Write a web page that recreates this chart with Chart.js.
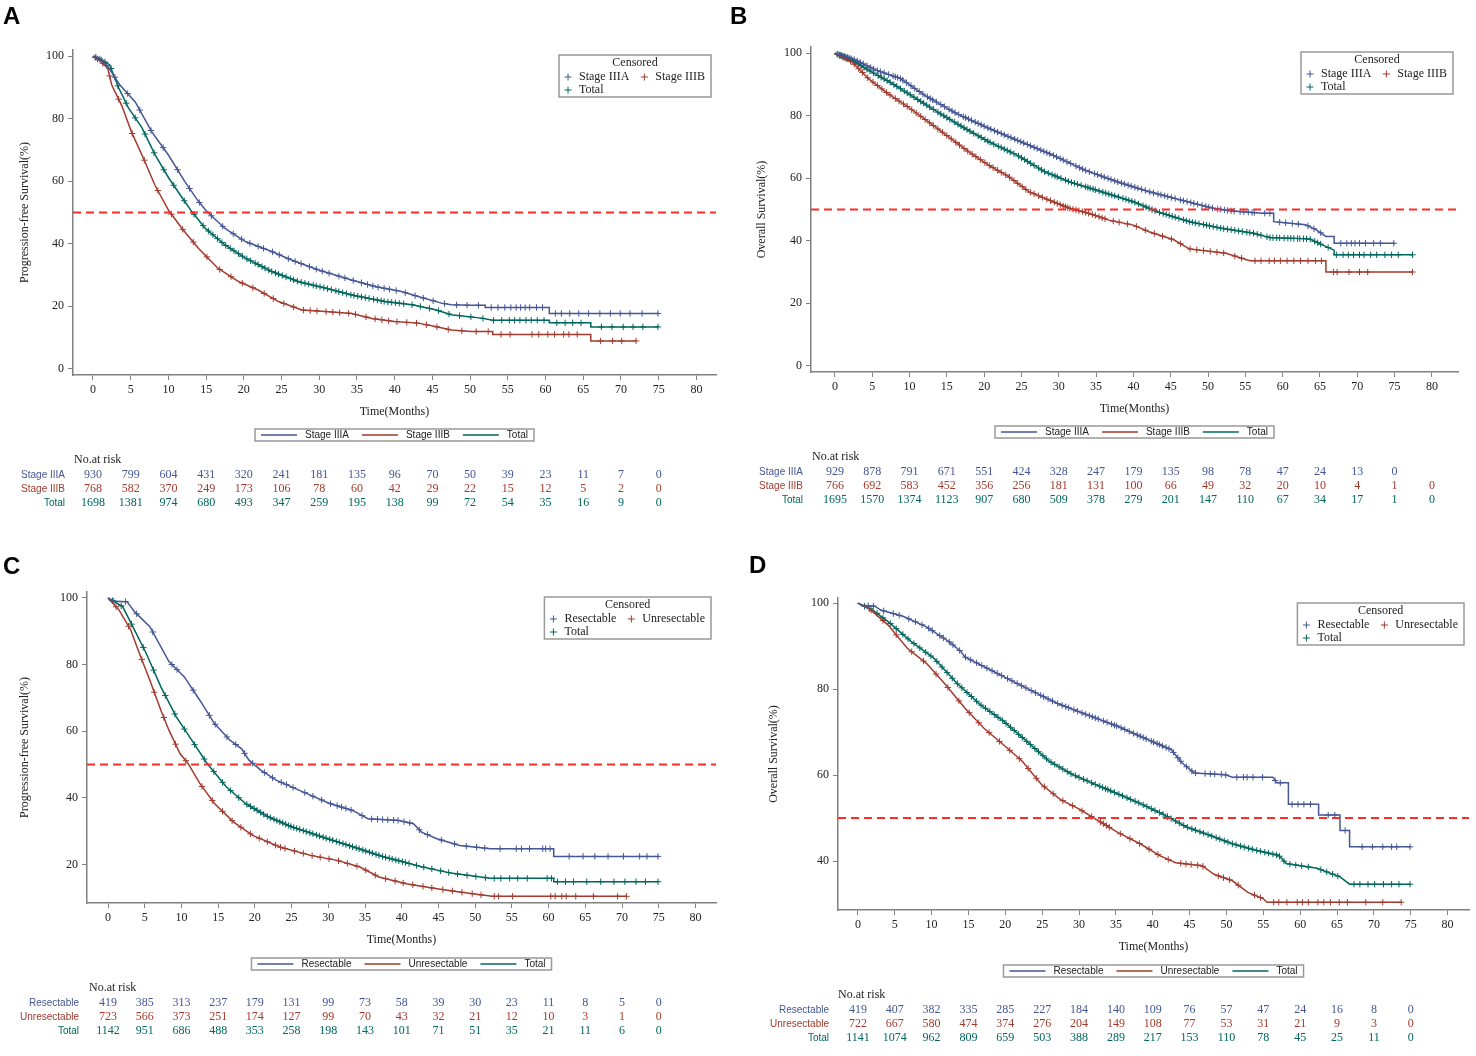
<!DOCTYPE html>
<html>
<head>
<meta charset="utf-8">
<title>Kaplan-Meier curves</title>
<script src="https://cdn.jsdelivr.net/npm/chart.js@4.4.1/dist/chart.umd.min.js"></script>
<style>
  body { margin: 0; background: #fff; }
  #page { position: relative; width: 1476px; height: 1056px; overflow: hidden; background: #fff; }
  #page canvas { position: absolute; }
  .tag { position: absolute; font: bold 24px 'Liberation Sans', Arial, sans-serif; line-height: 1; color: #000; }
</style>
</head>
<body>
<div id="page">
  <canvas id="chartA" style="left:0;top:0" width="738" height="530"></canvas>
  <canvas id="chartB" style="left:738px;top:0" width="738" height="530"></canvas>
  <canvas id="chartC" style="left:0;top:540px" width="738" height="516"></canvas>
  <canvas id="chartD" style="left:738px;top:540px" width="738" height="516"></canvas>
  <div class="tag" style="left:3px;top:4px">A</div>
  <div class="tag" style="left:730px;top:4px">B</div>
  <div class="tag" style="left:3px;top:554px">C</div>
  <div class="tag" style="left:749px;top:553px">D</div>
</div>
<script>
// Axis ticks
const X_TICKS = [0, 5, 10, 15, 20, 25, 30, 35, 40, 45, 50, 55, 60, 65, 70, 75, 80];
const Y_TICKS_FULL = [0, 20, 40, 60, 80, 100];
const Y_TICKS_C = [20, 40, 60, 80, 100];
const Y_TICKS_D = [40, 60, 80, 100];
const MEDIAN = 50;

// A: PFS by stage  (time in months, survival %, censor times)
const A_IIIA_T = [0, 1, 2, 3.6, 5.6, 7.8, 10, 12.2, 14, 15.1, 17.5, 20.2, 23.7, 26.3, 29.9, 34.3, 37.4, 40.9, 43.1, 46.2, 47.5, 50, 52, 52, 60.5, 60.5, 75];
const A_IIIA_S = [100, 99, 96.6, 90.7, 85.4, 75.8, 68.4, 59.8, 53.5, 50.3, 44.9, 40.7, 37.5, 34.8, 31.6, 28.4, 26.3, 24.7, 23.1, 21, 20.5, 20.3, 20.3, 19.6, 19.6, 17.7, 17.7];
const A_IIIA_C = [0.4, 1.1, 1.8, 2.9, 4.6, 6.2, 7.7, 9.3, 11.2, 12.8, 14.1, 15.7, 17.2, 18.6, 19.7, 20.8, 21.9, 22.6, 23.8, 24.7, 25.9, 26.8, 27.6, 28.7, 29.6, 30.4, 31.3, 32.6, 33.4, 34.5, 35.6, 36.4, 37.1, 37.8, 38.6, 39.3, 40.2, 41.4, 42.7, 43.8, 45.1, 46.6, 48.2, 49.6, 51.1, 52.8, 53.7, 54.6, 55.4, 56.1, 56.7, 57.3, 57.9, 58.8, 59.6, 61.3, 62.1, 63.2, 64.4, 65.7, 67.2, 68.6, 69.9, 71.2, 72.8, 74.9];
const A_IIIB_T = [0, 1, 1.96, 2.5, 3.8, 5.1, 6.7, 8.2, 10, 11.8, 14, 16.6, 19.3, 21.9, 24.6, 27.7, 30.8, 34.3, 37, 40, 43.1, 45.4, 47.5, 50.2, 53, 53, 66, 66, 72];
const A_IIIB_S = [100, 98.5, 96.1, 90.7, 84.3, 75.8, 67.3, 58.8, 50.8, 44.9, 38.5, 32.1, 27.9, 25.2, 21.5, 18.8, 18.3, 17.7, 16.1, 15.1, 14.6, 13.5, 12.4, 11.9, 11.9, 11, 11, 8.9, 8.9];
const A_IIIB_C = [0.6, 1.3, 2.2, 3.4, 5.2, 6.8, 8.6, 10.4, 11.9, 13.3, 15.1, 16.8, 18.3, 19.8, 21.2, 22.7, 23.9, 25.3, 26.6, 27.9, 28.8, 29.7, 30.9, 31.8, 32.7, 33.9, 34.8, 36.2, 37.4, 38.3, 39.2, 40.3, 41.6, 42.9, 44.2, 45.6, 47.1, 48.9, 50.8, 52.4, 54.1, 55.3, 58.2, 59.1, 60.3, 61.2, 62.4, 63.1, 64.2, 67.3, 68.9, 70.1, 72];
const A_TOT_T = [0, 1, 2.2, 3.4, 4.7, 6.5, 8.2, 10, 11.8, 13.1, 14.9, 17.5, 20.2, 23.7, 27.2, 30.8, 34.3, 38.7, 42.3, 45.4, 47.5, 51.5, 53, 60.5, 60.5, 66, 66, 75];
const A_TOT_S = [100, 99, 97.3, 89.9, 83.5, 77.1, 68.6, 61.2, 54.8, 50.3, 44.9, 39.6, 35.4, 31.1, 27.9, 25.8, 23.6, 21.5, 20.5, 18.9, 17.3, 16.2, 15.5, 15.5, 14.7, 14.7, 13.4, 13.4];
const A_TOT_C = [0.3, 0.9, 1.6, 2.4, 3.3, 4.4, 5.6, 6.9, 8.1, 9.4, 10.7, 12.1, 13.4, 14.6, 15.3, 15.9, 16.5, 17.1, 17.6, 18.2, 18.7, 19.3, 19.8, 20.4, 20.9, 21.5, 21.9, 22.4, 22.8, 23.3, 23.7, 24.2, 24.6, 25.1, 25.6, 26.2, 26.6, 27.1, 27.6, 28.1, 28.6, 29.2, 29.6, 30.1, 30.6, 31.1, 31.6, 32.2, 32.6, 33.1, 33.6, 34.2, 34.6, 35.1, 35.6, 36.1, 36.6, 37.2, 37.7, 38.2, 38.6, 39.1, 39.6, 40.1, 40.6, 41.2, 42.3, 43.4, 44.6, 45.8, 47.2, 48.6, 50.1, 51.7, 53.1, 54.2, 55.2, 55.9, 56.6, 57.4, 58.1, 58.9, 59.8, 61.5, 62.6, 63.6, 64.7, 67.4, 68.8, 70.3, 71.6, 72.9, 74.9];

// B: OS by stage
const B_IIIA_T = [0, 2.8, 5.5, 8.8, 12, 16.3, 20.6, 24.9, 29.2, 33.5, 37.8, 42.1, 46.4, 50.7, 52.9, 57.2, 58.8, 58.8, 63.1, 64.5, 65.8, 66.9, 66.9, 75];
const B_IIIA_S = [100, 97.8, 94.6, 91.9, 86.6, 80.7, 76, 71.7, 67.4, 62.6, 58.9, 55.7, 53, 50.4, 49.6, 48.8, 48.8, 46.1, 45.1, 43.5, 41.4, 41.4, 39.2, 39.2];
const B_IIIA_C = [0.4, 0.7, 0.9, 1.2, 1.4, 1.7, 1.9, 2.2, 2.6, 3.0, 3.4, 3.8, 4.3, 4.8, 5.2, 5.7, 6.1, 6.6, 7.2, 7.8, 8.1, 8.4, 8.8, 9.1, 9.6, 10.2, 10.7, 11.3, 11.8, 12.4, 12.8, 13.1, 13.6, 14.2, 14.7, 15.3, 15.7, 16.1, 16.6, 17.2, 17.5, 17.9, 18.3, 18.8, 19.2, 19.6, 20.0, 20.5, 20.9, 21.4, 21.8, 22.3, 22.7, 23.2, 23.6, 24.1, 24.5, 24.9, 25.3, 25.8, 26.2, 26.7, 27.1, 27.6, 28.0, 28.4, 28.8, 29.3, 29.7, 30.2, 30.6, 31.1, 31.6, 32.3, 32.8, 33.2, 33.6, 34.1, 34.8, 35.2, 35.7, 36.1, 36.6, 37.0, 37.5, 37.9, 38.4, 38.8, 39.3, 39.7, 40.2, 40.6, 41.1, 41.6, 42.2, 42.7, 43.3, 43.7, 44.2, 44.6, 45.1, 45.6, 46.3, 46.7, 47.2, 47.7, 48.1, 48.6, 49.2, 49.7, 50.1, 50.6, 51.3, 51.7, 52.2, 52.6, 53.1, 53.5, 54.3, 54.8, 55.4, 55.9, 56.2, 57.6, 58.3, 59.6, 60.4, 61.3, 62.1, 63.4, 64.2, 65.1, 67.8, 68.6, 69.2, 69.7, 70.3, 71.1, 72.2, 73.1, 74.9];
const B_IIIB_T = [0, 2.3, 4.5, 7.1, 9.8, 12.5, 15.2, 17.9, 20.6, 23.3, 26, 28.7, 31.4, 34, 36.7, 40, 42.1, 45.4, 47.5, 52.4, 55.6, 65.8, 65.8, 77.4];
const B_IIIB_S = [100, 97.2, 91.9, 87.1, 82.8, 78.1, 73.3, 68.5, 64.2, 60.5, 55.7, 53, 50.4, 48.8, 46.6, 45, 42.9, 40.3, 37.4, 36, 33.6, 33.6, 30, 30];
const B_IIIB_C = [0.6, 1.1, 1.5, 2.1, 2.6, 3.2, 3.7, 4.4, 5.1, 5.7, 6.3, 6.9, 7.4, 8.1, 8.6, 9.2, 9.7, 10.3, 10.9, 11.5, 12.1, 12.7, 13.2, 13.8, 14.4, 15.0, 15.6, 16.2, 16.7, 17.3, 17.8, 18.4, 18.9, 19.5, 20.1, 20.7, 21.2, 21.8, 22.3, 22.9, 23.4, 24.0, 24.5, 25.1, 25.6, 26.2, 26.7, 27.3, 27.8, 28.4, 28.9, 29.4, 29.8, 30.2, 30.6, 30.9, 31.2, 31.5, 31.9, 32.3, 32.7, 33.2, 33.6, 34.0, 34.5, 34.9, 35.4, 35.8, 36.2, 37.3, 38.1, 39.2, 40.4, 41.6, 42.8, 43.9, 45.1, 46.3, 47.6, 48.5, 49.4, 50.3, 51.2, 52.1, 53.6, 54.5, 56.3, 57.1, 58.2, 58.9, 59.7, 60.6, 61.5, 62.4, 63.4, 64.4, 65.2, 66.8, 67.3, 68.9, 70.3, 71.4, 77.4];
const B_TOT_T = [0, 2.3, 4.5, 7.7, 10.9, 14.1, 17.4, 20.6, 24.4, 28.1, 31.4, 35.7, 40, 43.2, 47.5, 51.8, 56.1, 58.3, 63.6, 65.3, 66.9, 66.9, 77.4];
const B_TOT_S = [100, 97.8, 94.6, 90.3, 85.5, 80.7, 76, 71.7, 67.4, 62.1, 58.9, 55.7, 52.5, 49.3, 46.1, 44, 42.4, 41, 40.6, 38.7, 37, 35.5, 35.5];
const B_TOT_C = [0.3, 0.6, 0.8, 1.0, 1.3, 1.5, 1.7, 2.0, 2.4, 2.7, 3.1, 3.5, 3.9, 4.3, 4.7, 5.2, 5.8, 6.2, 6.6, 7.0, 7.4, 7.9, 8.3, 8.8, 9.3, 9.7, 10.1, 10.6, 11.1, 11.5, 11.9, 12.3, 12.7, 13.2, 13.8, 14.2, 14.6, 15.0, 15.4, 16.0, 16.5, 16.9, 17.3, 17.7, 18.1, 18.6, 19.2, 19.6, 20.1, 20.5, 20.8, 21.3, 21.9, 22.3, 22.7, 23.1, 23.5, 24.0, 24.6, 25.0, 25.4, 25.8, 26.2, 26.7, 27.3, 27.7, 28.1, 28.6, 29.1, 29.5, 29.8, 30.3, 30.9, 31.3, 31.7, 32.1, 32.5, 33.0, 33.6, 33.9, 34.2, 34.6, 34.9, 35.4, 35.9, 36.3, 36.7, 37.1, 37.5, 38.0, 38.6, 39.0, 39.4, 39.8, 40.2, 40.7, 41.3, 41.7, 42.1, 42.5, 42.9, 43.5, 44.0, 44.4, 44.8, 45.2, 45.6, 46.1, 46.7, 47.1, 47.5, 47.9, 48.3, 48.8, 49.4, 49.8, 50.2, 50.7, 51.2, 51.7, 52.1, 52.6, 53.1, 53.6, 54.1, 54.6, 55.2, 55.6, 56.1, 56.6, 57.1, 57.9, 58.3, 58.7, 59.2, 59.6, 60.2, 60.7, 61.1, 61.5, 62.0, 62.3, 62.8, 63.2, 63.7, 64.3, 64.7, 65.1, 66.1, 67.2, 68.1, 68.8, 69.5, 70.3, 70.9, 71.8, 72.6, 73.7, 74.6, 75.5, 77.4];

// C: PFS by resectability
const C_RES_T = [0, 0.8, 2.6, 3.6, 5.7, 8.3, 10.4, 12.5, 14.5, 16.6, 18.2, 19.2, 20.8, 22.9, 26, 30.2, 33.3, 35.4, 39.6, 41.6, 42.7, 44.8, 47.9, 52.1, 60.7, 60.7, 75];
const C_RES_S = [100, 99, 98.9, 95.9, 91.4, 80.9, 76.3, 69.3, 62.3, 57.3, 54.7, 51.3, 48.3, 45.3, 42.3, 38.3, 36.2, 33.7, 33.2, 32.2, 29.7, 27.7, 25.7, 24.7, 24.7, 22.4, 22.4];
const C_RES_C = [0.8, 2.4, 3.9, 6.1, 8.7, 9.4, 11.6, 13.8, 14.6, 16.2, 17.4, 18.6, 19.7, 21.3, 22.4, 23.6, 24.3, 25.2, 26.8, 27.9, 29.1, 30.3, 31.2, 31.8, 32.4, 33.1, 34.6, 35.9, 36.7, 37.4, 38.1, 38.9, 39.5, 40.3, 41.1, 42.4, 43.5, 45.4, 47.2, 48.8, 50.2, 51.3, 53.4, 55.6, 56.3, 57.4, 59.2, 59.6, 60.2, 62.8, 64.7, 66.3, 68.1, 70.2, 72.4, 73.4, 74.9];
const C_UNR_T = [0, 1.5, 3.1, 4.1, 5.7, 7.2, 8.3, 9.8, 10.9, 12.5, 14.5, 17.1, 19.7, 23.4, 27.6, 31.2, 34.3, 36.9, 40.6, 44.8, 47.9, 52.3, 70.6];
const C_UNR_S = [100, 96.4, 90.4, 84.4, 75.3, 66.3, 60.3, 53.3, 50.3, 44.3, 38.3, 32.7, 28.7, 25.2, 22.7, 21.2, 19.2, 16.2, 14.2, 12.7, 11.7, 10.4, 10.4];
const C_UNR_C = [1.1, 2.8, 4.6, 6.3, 7.6, 9.2, 10.6, 12.8, 14.2, 15.6, 16.9, 18.1, 19.4, 20.6, 21.7, 22.8, 23.5, 24.1, 25.4, 26.6, 27.8, 28.9, 30.1, 31.4, 32.6, 33.9, 35.1, 36.4, 37.8, 39.1, 40.2, 41.5, 42.9, 44.1, 45.6, 46.9, 48.2, 49.6, 50.8, 52.6, 53.2, 55.1, 60.3, 60.9, 61.8, 62.4, 63.7, 66.1, 69.4, 70.6];
const C_TOT_T = [0, 2, 3.6, 5.2, 7.2, 9.3, 11.4, 13.5, 16.1, 18.7, 21.8, 25, 29.1, 33.3, 37.5, 42.7, 46.9, 52.1, 60.7, 60.7, 75];
const C_TOT_S = [100, 97.4, 90.4, 83.4, 73.3, 64.3, 57.3, 50.3, 43.3, 38.3, 34.3, 31.3, 28.3, 25.3, 22.3, 19.3, 17.3, 15.8, 15.8, 14.8, 14.8];
const C_TOT_C = [0.6, 1.8, 3.2, 4.8, 6.2, 7.8, 9.1, 10.4, 11.8, 13.1, 14.4, 15.6, 16.7, 17.8, 18.9, 19.4, 19.9, 20.3, 20.8, 21.2, 21.7, 22.1, 22.6, 23.0, 23.4, 23.8, 24.2, 24.6, 24.9, 25.3, 25.7, 26.1, 26.6, 27.0, 27.5, 27.9, 28.4, 28.8, 29.3, 29.7, 30.2, 30.6, 31.1, 31.5, 32.0, 32.4, 32.9, 33.3, 33.8, 34.2, 34.7, 35.1, 35.6, 36.0, 36.5, 36.9, 37.4, 37.8, 38.3, 38.7, 39.2, 39.6, 40.1, 40.5, 41, 42, 43, 44.1, 45.3, 46.4, 47.6, 48.9, 50.1, 51.4, 52.6, 53.5, 54.7, 55.8, 57.1, 59.8, 60.4, 61.2, 62.3, 63.4, 65.2, 67.1, 68.9, 70.4, 71.9, 73.2, 74.9];

// D: OS by resectability
const D_RES_T = [0, 0.5, 2.3, 3.1, 6.2, 9.3, 12.4, 14, 14.5, 17.6, 20.7, 23.8, 27, 31.1, 35.3, 39.4, 42.5, 44, 45.6, 49.8, 50.8, 56.3, 56.8, 58.4, 58.4, 62.5, 62.5, 65.4, 65.4, 66.7, 66.7, 75];
const D_RES_S = [100, 99.5, 99.3, 98.4, 96.9, 94.5, 91, 88.7, 87.5, 84.8, 82.1, 79.4, 76.7, 74, 71.3, 68.2, 65.9, 62.8, 60.5, 60.1, 59.5, 59.5, 58.2, 58.2, 53.2, 53.2, 50.7, 50.7, 47.1, 47.1, 43.3, 43.3];
const D_RES_C = [1.4, 2.1, 3.5, 4.8, 5.6, 6.9, 7.8, 8.7, 9.6, 10.1, 11.1, 11.6, 12.4, 12.9, 13.8, 14.6, 15.3, 16.1, 16.8, 17.5, 18.2, 18.9, 19.5, 20.3, 20.9, 21.6, 22.2, 22.8, 23.5, 24.1, 24.8, 25.2, 25.8, 26.4, 27.1, 27.7, 28.2, 28.6, 29.3, 29.8, 30.4, 30.9, 31.4, 31.8, 32.2, 32.6, 33.3, 33.8, 34.4, 34.8, 35.1, 35.7, 36.2, 36.8, 37.4, 37.9, 38.3, 38.7, 39.1, 39.8, 40.1, 40.6, 40.9, 41.3, 41.8, 42.2, 42.8, 43.4, 43.8, 44.6, 45.3, 45.8, 47.1, 47.8, 48.4, 49.3, 49.9, 51.4, 52.3, 52.8, 53.6, 54.9, 56.6, 57.3, 58.9, 59.7, 60.5, 61.4, 63.8, 64.7, 66.1, 68.4, 69.8, 71.2, 72.4, 73.1, 74.9];
const D_UNR_T = [0, 1.5, 4.1, 6.7, 9.3, 11.9, 14.5, 17.1, 19.7, 22.3, 24.9, 27.5, 30.1, 32.7, 35.3, 38.4, 41, 43.1, 46.7, 48.3, 50.8, 52.9, 55, 55.5, 73.7];
const D_UNR_S = [100, 98.8, 94.9, 89.5, 86, 81, 75.6, 70.9, 67.1, 63.2, 57.8, 54.3, 52, 49.3, 46.6, 43.9, 41.2, 39.6, 38.9, 36.9, 35.4, 32.7, 31.2, 30.4, 30.4];
const D_UNR_C = [1.8, 3.4, 5.2, 7.3, 8.9, 10.6, 12.2, 13.7, 15.1, 16.4, 17.8, 19.2, 20.6, 21.9, 23.1, 24.2, 25.3, 26.5, 27.8, 29.1, 30.4, 31.7, 32.9, 33.3, 33.7, 34.1, 35.6, 36.9, 38.2, 39.5, 40.7, 42.1, 43.8, 44.5, 45.2, 46.1, 46.8, 48.9, 49.6, 50.4, 51.6, 53.8, 54.6, 56.4, 57.1, 58.2, 59.6, 60.3, 61.1, 62.4, 63.2, 64.1, 65.3, 66.4, 68.9, 71.2, 73.7];
const D_TOT_T = [0, 2, 4.1, 7.2, 10.3, 13.4, 16.6, 19.7, 22.8, 25.9, 29, 32.1, 35.3, 38.4, 41.5, 44.6, 47.7, 50.8, 54, 57.1, 58.1, 62.3, 65.4, 66.7, 75];
const D_TOT_S = [100, 98.4, 95.7, 91.1, 87.2, 81.4, 76.4, 72.6, 68, 63.3, 60.2, 57.9, 55.6, 53.3, 50.8, 47.9, 46, 44, 42.5, 41.3, 39.4, 38.3, 36.3, 34.6, 34.6];
const D_TOT_C = [0.9, 1.6, 2.6, 3.4, 4.4, 5.2, 6.1, 6.8, 7.6, 8.4, 9.2, 9.9, 10.7, 11.4, 12.1, 12.8, 13.5, 14.1, 14.8, 15.4, 16.1, 16.7, 17.3, 17.9, 18.5, 19.0, 19.6, 20.1, 20.7, 21.2, 21.8, 22.3, 22.9, 23.4, 24, 24.5, 25.1, 25.6, 26.2, 26.7, 27.3, 27.8, 28.4, 28.9, 29.5, 30.0, 30.6, 31.1, 31.7, 32.2, 32.8, 33.2, 33.6, 33.9, 34.3, 34.8, 35.4, 35.9, 36.5, 37.0, 37.6, 38.1, 38.7, 39.2, 39.8, 40.3, 40.9, 41.4, 42, 42.5, 43.1, 43.6, 44.2, 44.7, 45.3, 45.8, 46.4, 46.9, 47.5, 48.0, 48.6, 49.1, 49.7, 50.2, 50.8, 51.3, 51.9, 52.4, 53, 53.5, 54.1, 54.6, 55.2, 55.7, 56.3, 56.8, 57.2, 57.8, 58.6, 59.4, 60.2, 61.1, 62.8, 63.6, 64.4, 65.1, 67.3, 68.1, 69.2, 70.1, 71.3, 72.4, 73.4, 74.9];

// Numbers at risk (every 5 months)
const A_RISK_IIIA = [930, 799, 604, 431, 320, 241, 181, 135, 96, 70, 50, 39, 23, 11, 7, 0];
const A_RISK_IIIB = [768, 582, 370, 249, 173, 106, 78, 60, 42, 29, 22, 15, 12, 5, 2, 0];
const A_RISK_TOT = [1698, 1381, 974, 680, 493, 347, 259, 195, 138, 99, 72, 54, 35, 16, 9, 0];
const B_RISK_IIIA = [929, 878, 791, 671, 551, 424, 328, 247, 179, 135, 98, 78, 47, 24, 13, 0];
const B_RISK_IIIB = [766, 692, 583, 452, 356, 256, 181, 131, 100, 66, 49, 32, 20, 10, 4, 1, 0];
const B_RISK_TOT = [1695, 1570, 1374, 1123, 907, 680, 509, 378, 279, 201, 147, 110, 67, 34, 17, 1, 0];
const C_RISK_RES = [419, 385, 313, 237, 179, 131, 99, 73, 58, 39, 30, 23, 11, 8, 5, 0];
const C_RISK_UNR = [723, 566, 373, 251, 174, 127, 99, 70, 43, 32, 21, 12, 10, 3, 1, 0];
const C_RISK_TOT = [1142, 951, 686, 488, 353, 258, 198, 143, 101, 71, 51, 35, 21, 11, 6, 0];
const D_RISK_RES = [419, 407, 382, 335, 285, 227, 184, 140, 109, 76, 57, 47, 24, 16, 8, 0];
const D_RISK_UNR = [722, 667, 580, 474, 374, 276, 204, 149, 108, 77, 53, 31, 21, 9, 3, 0];
const D_RISK_TOT = [1141, 1074, 962, 809, 659, 503, 388, 289, 217, 153, 110, 78, 45, 25, 11, 0];

const STAGE_GROUPS = ['Stage IIIA', 'Stage IIIB', 'Total'];
const RESECT_GROUPS = ['Resectable', 'Unresectable', 'Total'];

// Styling
const COLORS = ['#445694', '#A23A2E', '#01665E'];
const SERIF = "'Liberation Serif', 'Times New Roman', serif";
const SANS = "'Liberation Sans', Arial, sans-serif";
const AXIS_COLOR = '#808080';
const TEXT_COLOR = '#222';

/**
 * Survival at time t
 */
function survAt(times, surv, t) {
    let i = 0;
    while (i < times.length - 1 && times[i + 1] <= t) i++;
    if (i >= times.length - 1) return surv[surv.length - 1];
    const span = times[i + 1] - times[i];
    if (span === 0) return surv[i + 1];
    return surv[i] + (surv[i + 1] - surv[i]) * (t - times[i]) / span;
}

function buildDatasets(series) {
    const lines = series.map((s, i) => ({
        data: s.t.map((t, k) => ({ x: t, y: s.s[k] })),
        borderColor: COLORS[i],
        borderWidth: 1.5,
        pointRadius: 0,
        tension: 0,
        fill: false
    }));
    const marks = series.map((s, i) => ({
        data: s.c.map(t => ({ x: t, y: survAt(s.t, s.s, t) })),
        showLine: false,
        pointStyle: 'cross',
        pointRadius: 3.2,
        pointBorderWidth: 1,
        borderColor: COLORS[i],
        backgroundColor: COLORS[i]
    }));
    return lines.concat(marks);
}

// Red dashed median reference line
const medianLine = {
    id: 'medianLine',
    afterDatasetsDraw(chart) {
        const { ctx, chartArea, scales: { y } } = chart;
        const py = y.getPixelForValue(MEDIAN);
        ctx.save();
        ctx.strokeStyle = '#FF2A2A';
        ctx.lineWidth = 2;
        ctx.setLineDash([8, 5]);
        ctx.beginPath();
        ctx.moveTo(chartArea.left, py);
        ctx.lineTo(chartArea.right, py);
        ctx.stroke();
        ctx.restore();
    }
};

function drawPlus(ctx, x, y, color) {
    ctx.strokeStyle = color;
    ctx.lineWidth = 1;
    ctx.beginPath();
    ctx.moveTo(x - 3.5, y); ctx.lineTo(x + 3.5, y);
    ctx.moveTo(x, y - 3.5); ctx.lineTo(x, y + 3.5);
    ctx.stroke();
}

// "Censored" legend box, inset in the top-right corner
const censorLegend = {
    id: 'censorLegend',
    afterDraw(chart, args, opts) {
        const { ctx, chartArea } = chart;
        ctx.save();
        ctx.font = `12px ${SERIF}`;
        const w1 = ctx.measureText(opts.groups[0]).width;
        const w2 = ctx.measureText(opts.groups[1]).width;
        const w = 20 + w1 + 15 + 11 + w2 + 6;
        const h = 42;
        const bx = chartArea.right - 5 - w;
        const by = chartArea.top + 5;
        ctx.fillStyle = '#fff';
        ctx.fillRect(bx, by, w, h);
        ctx.strokeStyle = '#999';
        ctx.lineWidth = 1.5;
        ctx.strokeRect(bx, by, w, h);
        ctx.fillStyle = TEXT_COLOR;
        ctx.textBaseline = 'middle';
        ctx.textAlign = 'center';
        ctx.fillText('Censored', bx + w / 2, by + 8);
        ctx.textAlign = 'left';
        const x2 = bx + 20 + w1 + 15;
        drawPlus(ctx, bx + 9, by + 22, COLORS[0]);
        ctx.fillText(opts.groups[0], bx + 20, by + 22);
        drawPlus(ctx, x2, by + 22, COLORS[1]);
        ctx.fillText(opts.groups[1], x2 + 11, by + 22);
        drawPlus(ctx, bx + 9, by + 35, COLORS[2]);
        ctx.fillText(opts.groups[2], bx + 20, by + 35);
        ctx.restore();
    }
};

// Line legend under the x axis title
const lineLegend = {
    id: 'lineLegend',
    afterDraw(chart, args, opts) {
        const { ctx, chartArea } = chart;
        ctx.save();
        ctx.font = `10px ${SANS}`;
        const widths = opts.groups.map(g => ctx.measureText(g).width);
        const total = 6 + widths.reduce((a, w) => a + 44 + w + 13, 0) - 7;
        const bx = (chartArea.left + chartArea.right) / 2 - total / 2;
        const by = opts.y - 6;
        ctx.strokeStyle = '#999';
        ctx.lineWidth = 1.5;
        ctx.strokeRect(bx, by, total, 12);
        ctx.textBaseline = 'middle';
        ctx.textAlign = 'left';
        let x = bx + 6;
        opts.groups.forEach((g, i) => {
            ctx.strokeStyle = COLORS[i];
            ctx.lineWidth = 1.5;
            ctx.beginPath();
            ctx.moveTo(x, opts.y);
            ctx.lineTo(x + 36, opts.y);
            ctx.stroke();
            ctx.fillStyle = TEXT_COLOR;
            ctx.fillText(g, x + 44, opts.y + 0.5);
            x += 44 + widths[i] + 13;
        });
        ctx.restore();
    }
};

// Numbers-at-risk table aligned with the x ticks
const riskTable = {
    id: 'riskTable',
    afterDraw(chart, args, opts) {
        const { ctx, scales: { x } } = chart;
        ctx.save();
        ctx.textBaseline = 'middle';
        ctx.font = `12px ${SERIF}`;
        ctx.fillStyle = TEXT_COLOR;
        ctx.textAlign = 'left';
        ctx.fillText('No.at risk', opts.titleX, opts.titleY);
        opts.rows.forEach((row, i) => {
            const y = opts.rowY + i * 14;
            ctx.fillStyle = COLORS[i];
            ctx.font = `10px ${SANS}`;
            ctx.textAlign = 'right';
            ctx.fillText(opts.groups[i], opts.labelX, y);
            ctx.font = `12px ${SERIF}`;
            ctx.textAlign = 'center';
            row.forEach((n, j) => ctx.fillText(String(n), x.getPixelForValue(X_TICKS[j]), y));
        });
        ctx.restore();
    }
};

function axisFont() {
    return { size: 12, family: SERIF };
}

/**
 * Build one Kaplan-Meier panel
 */
function renderPanel(p) {
    const canvas = document.getElementById(p.id);
    const ctx = canvas.getContext('2d');
    const area = p.area;
    return new Chart(ctx, {
        type: 'line',
        data: { datasets: buildDatasets(p.series) },
        options: {
            responsive: false,
            animation: false,
            devicePixelRatio: 1,
            layout: {
                padding: { left: 0, top: area.t, right: canvas.width - area.r, bottom: canvas.height - area.b - 45 }
            },
            scales: {
                x: {
                    type: 'linear',
                    min: p.xMin,
                    max: p.xMax,
                    afterBuildTicks: s => { s.ticks = X_TICKS.map(v => ({ value: v })); },
                    afterFit: s => { s.height = 45; },
                    grid: { drawOnChartArea: false, drawTicks: true, tickLength: 5, color: AXIS_COLOR },
                    border: { color: AXIS_COLOR, width: 1.5 },
                    ticks: { color: TEXT_COLOR, font: axisFont(), padding: 3, maxRotation: 0, autoSkip: false },
                    title: { display: true, text: 'Time(Months)', color: TEXT_COLOR, font: axisFont(), padding: { top: 0, bottom: 1 } }
                },
                y: {
                    type: 'linear',
                    min: p.yMin,
                    max: p.yMax,
                    afterBuildTicks: s => { s.ticks = p.yTicks.map(v => ({ value: v })); },
                    afterFit: s => { s.width = area.l; },
                    grid: { drawOnChartArea: false, drawTicks: true, tickLength: 5, color: AXIS_COLOR },
                    border: { color: AXIS_COLOR, width: 1.5 },
                    ticks: { color: TEXT_COLOR, font: axisFont(), padding: 4, autoSkip: false },
                    title: { display: true, text: p.yTitle, color: TEXT_COLOR, font: axisFont(), padding: { top: p.yTitlePad, bottom: 0 } }
                }
            },
            plugins: {
                legend: { display: false },
                tooltip: { enabled: false },
                censorLegend: { groups: p.groups },
                lineLegend: { groups: p.groups, y: p.legendY },
                riskTable: { groups: p.groups, rows: p.risk, titleX: p.risk_at.titleX, titleY: p.risk_at.titleY, labelX: p.risk_at.labelX, rowY: p.risk_at.rowY }
            }
        },
        plugins: [medianLine, censorLegend, lineLegend, riskTable]
    });
}

const PANELS = [
    {
        id: 'chartA', yTitle: 'Progression-free Survival(%)', groups: STAGE_GROUPS, yTicks: Y_TICKS_FULL,
        series: [
            { t: A_IIIA_T, s: A_IIIA_S, c: A_IIIA_C },
            { t: A_IIIB_T, s: A_IIIB_S, c: A_IIIB_C },
            { t: A_TOT_T, s: A_TOT_S, c: A_TOT_C }
        ],
        risk: [A_RISK_IIIA, A_RISK_IIIB, A_RISK_TOT],
        area: { l: 73, r: 716, t: 50, b: 375 }, xMin: -2.65, xMax: 82.6, yMin: -2, yMax: 102, yTitlePad: 18,
        legendY: 435, risk_at: { titleX: 74, titleY: 460, labelX: 65, rowY: 475 }
    },
    {
        id: 'chartB', yTitle: 'Overall Survival(%)', groups: STAGE_GROUPS, yTicks: Y_TICKS_FULL,
        series: [
            { t: B_IIIA_T, s: B_IIIA_S, c: B_IIIA_C },
            { t: B_IIIB_T, s: B_IIIB_S, c: B_IIIB_C },
            { t: B_TOT_T, s: B_TOT_S, c: B_TOT_C }
        ],
        risk: [B_RISK_IIIA, B_RISK_IIIB, B_RISK_TOT],
        area: { l: 73, r: 720, t: 47, b: 372 }, xMin: -3.2, xMax: 83.5, yMin: -2, yMax: 102, yTitlePad: 17,
        legendY: 432, risk_at: { titleX: 74, titleY: 457, labelX: 65, rowY: 472 }
    },
    {
        id: 'chartC', yTitle: 'Progression-free Survival(%)', groups: RESECT_GROUPS, yTicks: Y_TICKS_C,
        series: [
            { t: C_RES_T, s: C_RES_S, c: C_RES_C },
            { t: C_UNR_T, s: C_UNR_S, c: C_UNR_C },
            { t: C_TOT_T, s: C_TOT_S, c: C_TOT_C }
        ],
        risk: [C_RISK_RES, C_RISK_UNR, C_RISK_TOT],
        area: { l: 87, r: 716, t: 52, b: 363 }, xMin: -2.86, xMax: 82.8, yMin: 8.4, yMax: 101.8, yTitlePad: 18,
        legendY: 424, risk_at: { titleX: 89, titleY: 448, labelX: 79, rowY: 463 }
    },
    {
        id: 'chartD', yTitle: 'Overall Survival(%)', groups: RESECT_GROUPS, yTicks: Y_TICKS_D,
        series: [
            { t: D_RES_T, s: D_RES_S, c: D_RES_C },
            { t: D_UNR_T, s: D_UNR_S, c: D_UNR_C },
            { t: D_TOT_T, s: D_TOT_S, c: D_TOT_C }
        ],
        risk: [D_RISK_RES, D_RISK_UNR, D_RISK_TOT],
        area: { l: 100, r: 731, t: 58, b: 370 }, xMin: -2.7, xMax: 82.9, yMin: 28.6, yMax: 101.2, yTitlePad: 29,
        legendY: 431, risk_at: { titleX: 100, titleY: 455, labelX: 91, rowY: 470 }
    }
];

PANELS.forEach(renderPanel);
</script>
</body>
</html>
